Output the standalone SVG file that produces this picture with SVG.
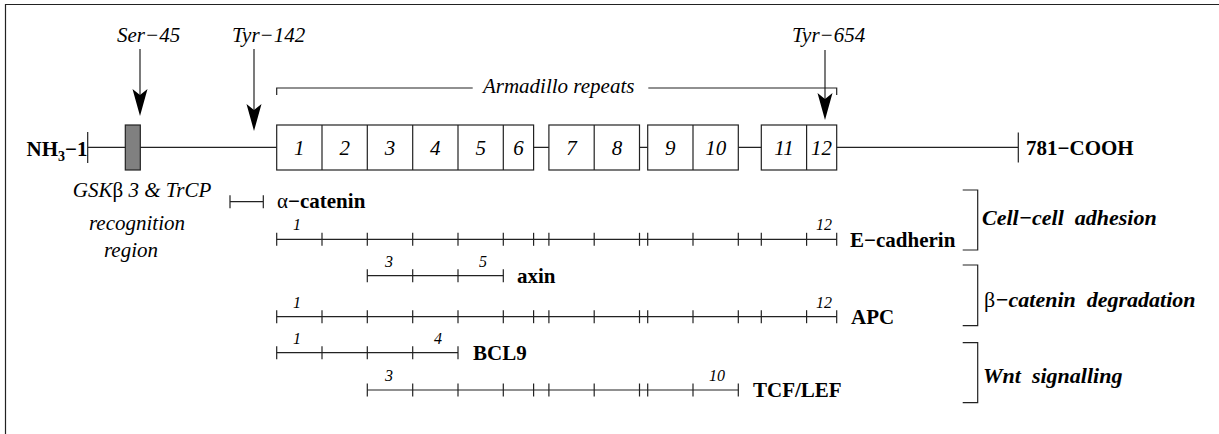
<svg xmlns="http://www.w3.org/2000/svg" width="1219" height="434" viewBox="0 0 1219 434">
<style>
.ln{stroke:#222;stroke-width:1.2;fill:none}
.box{stroke:#222;stroke-width:1.2;fill:#fff}
text{font-family:"Liberation Serif","Nimbus Roman","Nimbus Roman No9 L","TeX Gyre Termes","FreeSerif","Noto Serif","Times",serif;fill:#000}
.it{font-style:italic;font-size:21px}
.sm{font-style:italic;font-size:16px}
.bd{font-weight:bold;font-size:21px}
.gr{font-weight:bold;font-style:italic;font-size:22px}
.rg{font-style:normal;font-weight:normal}
.ah{fill:#000;stroke:none}
</style>
<defs>
<path id="tick" d="M0 -6.5 V6.5" class="ln"/>
</defs>
<path id="frame" d="M5.5 440 V4.5 H1225" class="ln"/>

<g id="backbone">
<path class="ln" d="M87.7 147.3 H1018.3 M87.7 132 V163 M1018.3 132.5 V162.5"/>
<text class="bd" x="26.5" y="156">NH<tspan font-size="14" dy="5">3</tspan><tspan dy="-5">−1</tspan></text>
<text class="bd" x="1026" y="155">781−COOH</text>
</g>

<g id="gsk-region">
<rect x="125.3" y="125" width="15" height="45" fill="#808080" stroke="#222" stroke-width="1.2"/>
<text class="it" text-anchor="middle" x="142" y="197">GSK<tspan class="rg">β</tspan> 3 &amp; TrCP</text>
<text class="it" text-anchor="middle" x="137" y="230">recognition</text>
<text class="it" text-anchor="middle" x="131" y="257">region</text>
</g>

<g id="repeats">
<rect class="box" x="276.7" y="125" width="256.9" height="45"/>
<rect class="box" x="548.9" y="125" width="90.6" height="45"/>
<rect class="box" x="647.7" y="125" width="90.6" height="45"/>
<rect class="box" x="761.3" y="125" width="75.4" height="45"/>
<path class="ln" d="M322 125V170M367.3 125V170M412.7 125V170M458 125V170M503.3 125V170M594.2 125V170M693 125V170M806.6 125V170"/>
<g text-anchor="middle">
<text class="it" x="299.3" y="155">1</text>
<text class="it" x="344.7" y="155">2</text>
<text class="it" x="390" y="155">3</text>
<text class="it" x="435.3" y="155">4</text>
<text class="it" x="480.7" y="155">5</text>
<text class="it" x="518.5" y="155">6</text>
<text class="it" x="571.5" y="155">7</text>
<text class="it" x="616.9" y="155">8</text>
<text class="it" x="670.3" y="155">9</text>
<text class="it" x="715.7" y="155">10</text>
<text class="it" x="784" y="155">11</text>
<text class="it" x="821.6" y="155">12</text>
</g>
<path class="ln" d="M276.7 95 V88 H472.7 M648.3 88 H836.7 V95"/>
<text class="it" text-anchor="middle" x="558.7" y="93.3">Armadillo repeats</text>
</g>

<g id="sites">
<text class="it" x="117" y="42">Ser−45</text>
<path class="ln" d="M140 49 V96"/>
<path class="ah" d="M140 116 L132.5 89 L140 95 L147.5 89 Z"/>
<text class="it" x="232" y="42">Tyr−142</text>
<path class="ln" d="M254 49 V111"/>
<path class="ah" d="M254 131 L246.5 104 L254 110 L261.5 104 Z"/>
<text class="it" x="792" y="42">Tyr−654</text>
<path class="ln" d="M825 50 V100"/>
<path class="ah" d="M825 120 L817.5 93 L825 99 L832.5 93 Z"/>
</g>

<g id="alpha-catenin">
<path class="ln" d="M230 201.7 H263.3 M230 195.2 V208.2 M263.3 195.2 V208.2"/>
<text class="bd" x="277" y="207.5"><tspan class="rg">α</tspan>−catenin</text>
</g>

<g id="e-cadherin">
<path class="ln" d="M276.7 239.3 H836.7"/>
<g transform="translate(0 239.3)">
<use href="#tick" x="276.7"/><use href="#tick" x="322"/><use href="#tick" x="367.3"/><use href="#tick" x="412.7"/><use href="#tick" x="458"/><use href="#tick" x="503.3"/><use href="#tick" x="533.6"/><use href="#tick" x="548.9"/><use href="#tick" x="594.2"/><use href="#tick" x="639.5"/><use href="#tick" x="647.7"/><use href="#tick" x="693"/><use href="#tick" x="738.3"/><use href="#tick" x="761.3"/><use href="#tick" x="806.6"/><use href="#tick" x="836.7"/>
</g>
<text class="sm" text-anchor="middle" x="297" y="230.3">1</text>
<text class="sm" text-anchor="middle" x="824" y="230.3">12</text>
<text class="bd" x="850" y="247">E−cadherin</text>
</g>

<g id="axin">
<path class="ln" d="M367.3 275.7 H503.3"/>
<g transform="translate(0 275.7)">
<use href="#tick" x="367.3"/><use href="#tick" x="412.7"/><use href="#tick" x="458"/><use href="#tick" x="503.3"/>
</g>
<text class="sm" text-anchor="middle" x="389" y="266.7">3</text>
<text class="sm" text-anchor="middle" x="483" y="266.7">5</text>
<text class="bd" x="517" y="283">axin</text>
</g>

<g id="apc">
<path class="ln" d="M276.7 316.7 H836.7"/>
<g transform="translate(0 316.7)">
<use href="#tick" x="276.7"/><use href="#tick" x="322"/><use href="#tick" x="367.3"/><use href="#tick" x="412.7"/><use href="#tick" x="458"/><use href="#tick" x="503.3"/><use href="#tick" x="533.6"/><use href="#tick" x="548.9"/><use href="#tick" x="594.2"/><use href="#tick" x="639.5"/><use href="#tick" x="647.7"/><use href="#tick" x="693"/><use href="#tick" x="738.3"/><use href="#tick" x="761.3"/><use href="#tick" x="806.6"/><use href="#tick" x="836.7"/>
</g>
<text class="sm" text-anchor="middle" x="297" y="307.7">1</text>
<text class="sm" text-anchor="middle" x="824" y="307.7">12</text>
<text class="bd" x="851" y="324">APC</text>
</g>

<g id="bcl9">
<path class="ln" d="M276.7 352.7 H458"/>
<g transform="translate(0 352.7)">
<use href="#tick" x="276.7"/><use href="#tick" x="322"/><use href="#tick" x="367.3"/><use href="#tick" x="412.7"/><use href="#tick" x="458"/>
</g>
<text class="sm" text-anchor="middle" x="297" y="343.7">1</text>
<text class="sm" text-anchor="middle" x="438" y="343.7">4</text>
<text class="bd" x="473" y="360">BCL9</text>
</g>

<g id="tcf-lef">
<path class="ln" d="M367.3 390 H738.3"/>
<g transform="translate(0 390)">
<use href="#tick" x="367.3"/><use href="#tick" x="412.7"/><use href="#tick" x="458"/><use href="#tick" x="503.3"/><use href="#tick" x="533.6"/><use href="#tick" x="548.9"/><use href="#tick" x="594.2"/><use href="#tick" x="639.5"/><use href="#tick" x="647.7"/><use href="#tick" x="693"/><use href="#tick" x="738.3"/>
</g>
<text class="sm" text-anchor="middle" x="389" y="381">3</text>
<text class="sm" text-anchor="middle" x="717" y="381">10</text>
<text class="bd" x="753" y="397">TCF/LEF</text>
</g>

<g id="groups">
<path class="ln" d="M962.7 190 H977.7 V250 H962.7"/>
<path class="ln" d="M962.7 265 H977.7 V325.7 H962.7"/>
<path class="ln" d="M962.7 342.7 H977.7 V402.7 H962.7"/>
<text class="gr" x="982" y="225" xml:space="preserve">Cell−cell  adhesion</text>
<text class="gr" x="984" y="306.5" xml:space="preserve"><tspan class="rg">β</tspan>−catenin  degradation</text>
<text class="gr" x="983" y="383" xml:space="preserve">Wnt  signalling</text>
</g>
</svg>
